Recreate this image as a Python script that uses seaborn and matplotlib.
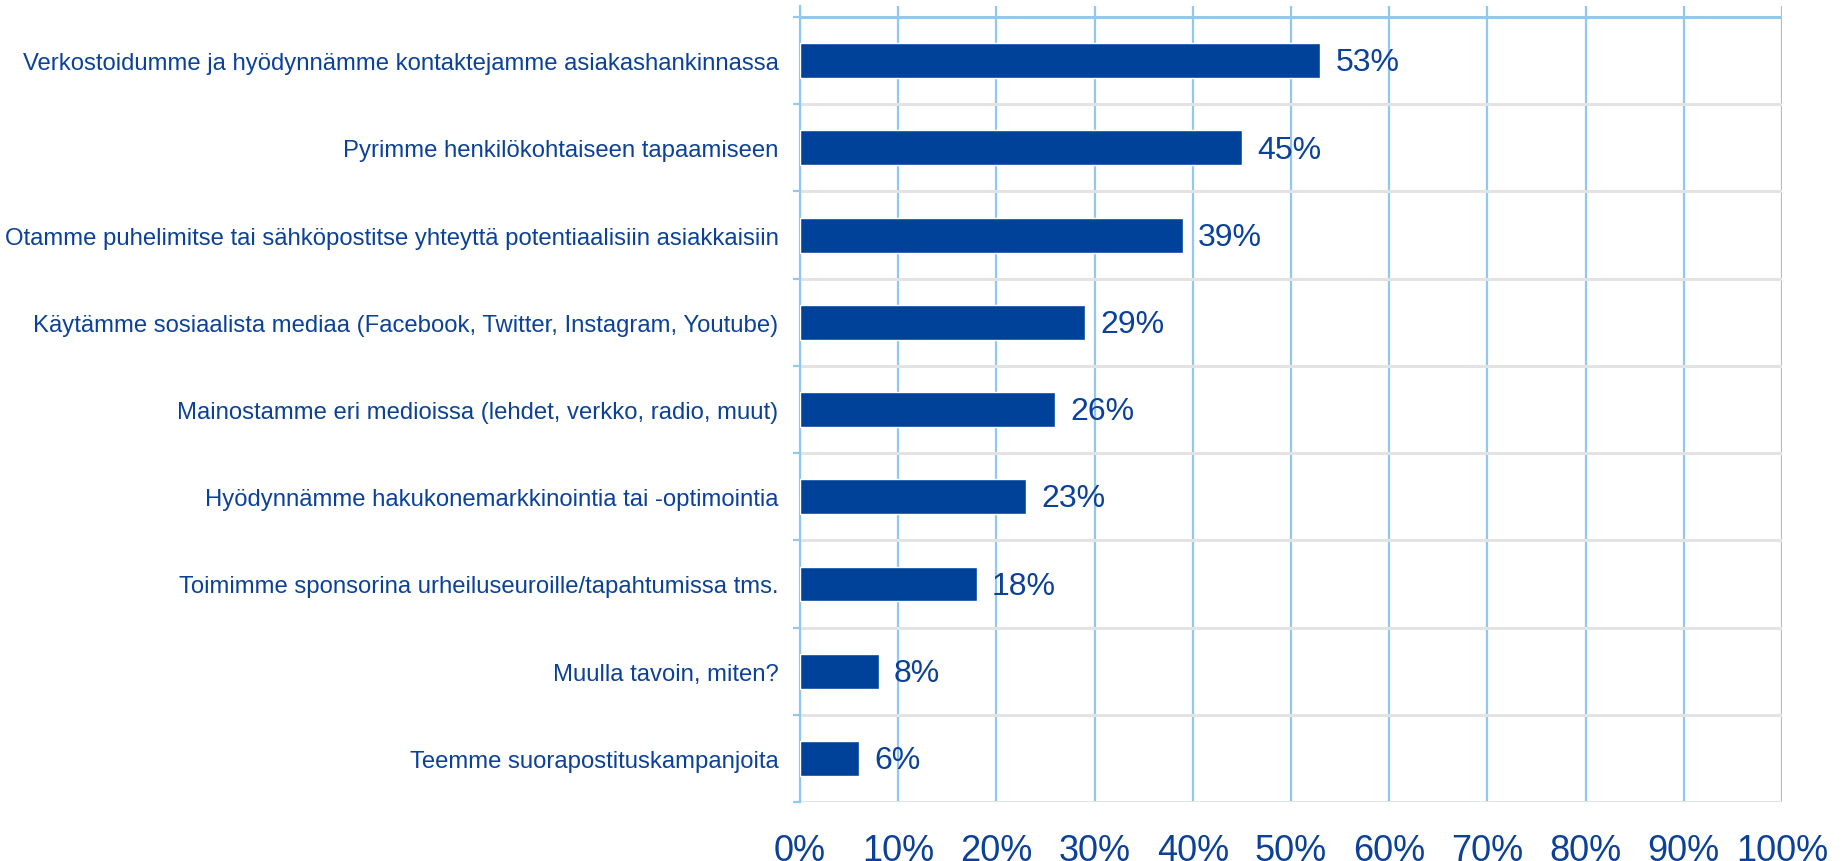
import pandas as pd
import matplotlib.pyplot as plt
import seaborn as sns
from matplotlib.ticker import FixedLocator

# Data
categories = [
    "Verkostoidumme ja hyödynnämme kontaktejamme asiakashankinnassa",
    "Pyrimme henkilökohtaiseen tapaamiseen",
    "Otamme puhelimitse tai sähköpostitse yhteyttä potentiaalisiin asiakkaisiin",
    "Käytämme sosiaalista mediaa (Facebook, Twitter, Instagram, Youtube)",
    "Mainostamme eri medioissa (lehdet, verkko, radio, muut)",
    "Hyödynnämme hakukonemarkkinointia tai -optimointia",
    "Toimimme sponsorina urheiluseuroille/tapahtumissa tms.",
    "Muulla tavoin, miten?",
    "Teemme suorapostituskampanjoita",
]
shares = [53, 45, 39, 29, 26, 23, 18, 8, 6]
x_ticks = list(range(0, 101, 10))
x_ticklabels = [f"{t}%" for t in x_ticks]

df = pd.DataFrame({"category": categories, "share": shares})

BAR = "#00429a"
TEXT = "#0b4199"
VGRID = "#90c8ee"
HGRID = "#e3e3e3"

sns.set_style("white")
plt.rcParams["font.family"] = ["Liberation Sans", "DejaVu Sans"]

fig = plt.figure(figsize=(18.47, 8.62), dpi=100)
ax = fig.add_axes([800 / 1847, 1 - 803 / 862, (1782 - 800) / 1847, (803 - 7) / 862])

sns.barplot(data=df, x="share", y="category", orient="h", color=BAR,
            width=0.40, saturation=1, ax=ax, zorder=3)

row_px = (803 - 18) / len(categories)
ax.set_xlim(0, 100)
ax.set_ylim(len(categories) - 0.5, -0.5 - 11 / row_px)

# vertical gridlines
for t in x_ticks:
    ax.axvline(t, color=VGRID, lw=1.6, zorder=1)
# horizontal separators
for i in range(len(categories) + 1):
    ax.axhline(i - 0.5, color=VGRID if i == 0 else HGRID, lw=2.2, zorder=2)

for s in ax.spines.values():
    s.set_visible(False)
ax.spines["left"].set_visible(True)
ax.spines["left"].set_color(VGRID)
ax.spines["left"].set_linewidth(1.6)

ax.set_xticks(x_ticks)
ax.set_xticklabels(x_ticklabels)
ax.tick_params(axis="x", length=0, pad=22, labelsize=26, labelcolor=TEXT)
ax.tick_params(axis="y", which="major", length=0, pad=15.5, labelsize=17.2, labelcolor=TEXT)
ax.yaxis.set_minor_locator(FixedLocator([i - 0.5 for i in range(len(categories) + 1)]))
ax.tick_params(axis="y", which="minor", length=5, width=1.6, color=VGRID, left=True)

ax.set_xlabel("")
ax.set_ylabel("")

for i, v in enumerate(shares):
    ax.text(v + 1.55, i + 0.02, f"{v}%", va="center", ha="left", fontsize=23,
            color=TEXT, zorder=4)

fig.savefig("out.png", dpi=100)
